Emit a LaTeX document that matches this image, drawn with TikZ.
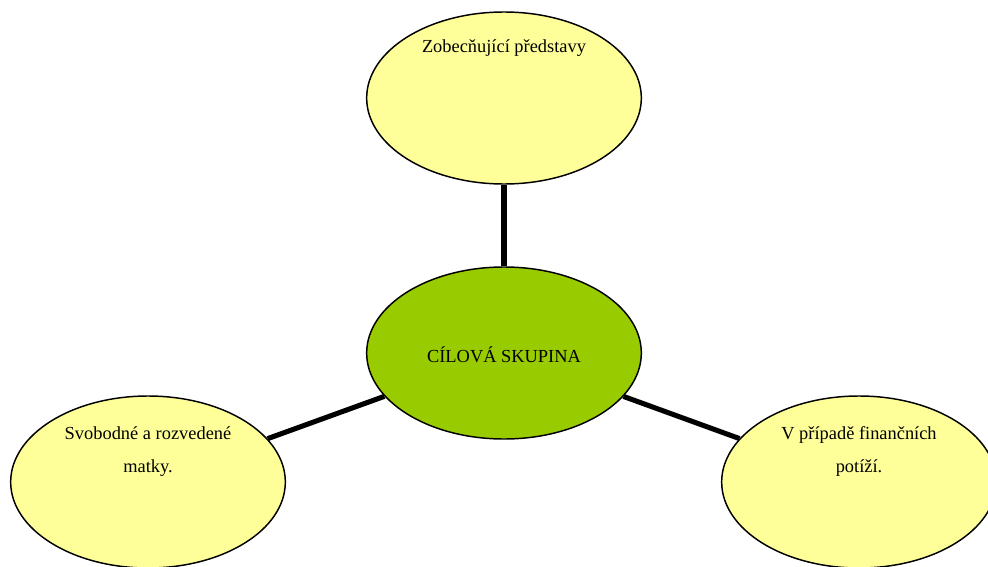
\documentclass[tikz,border=0pt]{standalone}
\usepackage{fontspec}
\setmainfont{Liberation Serif}
\definecolor{paleyellow}{HTML}{FFFF99}
\definecolor{limegreen}{HTML}{99CC00}
\tikzset{
  bubble/.style={ellipse,draw=black,line width=1.1pt,fill=paleyellow,
    minimum width=206pt,minimum height=129pt,inner sep=0pt},
  hub/.style={bubble,fill=limegreen},
  caption/.style={align=center,inner sep=0pt,
    font=\fontsize{13.8pt}{24.75pt}\selectfont},
  spoke/.style={line width=3.8pt}
}
\usetikzlibrary{shapes.geometric}
\begin{document}
\begin{tikzpicture}[x=0.75pt,y=-0.75pt]
    \useasboundingbox (0,0) rectangle (988,567);
    \clip (0,0) rectangle (988,567);
    % ellipses
    \node[hub] (skupina) at (504,353) {};
    \node[bubble] (predstavy) at (504,98) {};
    \node[bubble] (matky) at (148,482) {};
    \node[bubble] (potize) at (859,482) {};
    % spokes
    \draw[spoke] (skupina) -- (predstavy);
    \draw[spoke] (skupina) -- (matky);
    \draw[spoke] (skupina) -- (potize);
    % texts
    \node[caption] (tskupina) at (504,355) {CÍLOVÁ SKUPINA};
    \node[caption] (tpredstavy) at (504,48) {Zobecňující představy};
    \node[caption] (tmatky) at (148,451.5) {Svobodné a rozvedené\\matky.};
    \node[caption] (tpotize) at (859,451.5) {V případě finančních\\potíží.};
\end{tikzpicture}
\end{document}
